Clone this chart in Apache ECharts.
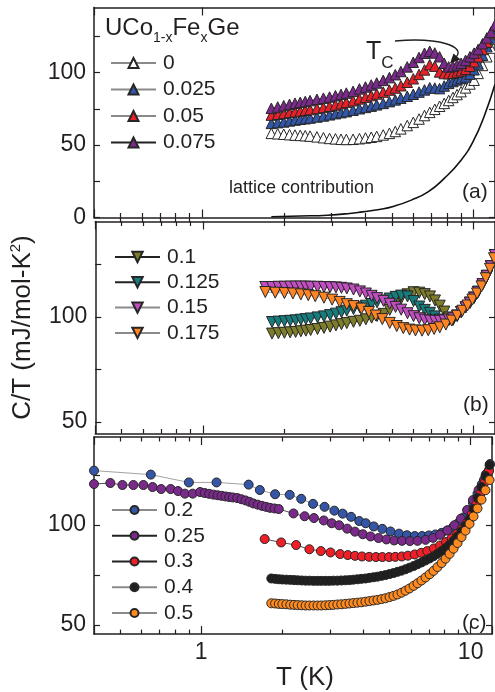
<!DOCTYPE html>
<html>
<head>
<meta charset="utf-8">
<script src="https://cdn.jsdelivr.net/npm/echarts@6.0.0/dist/echarts.min.js"></script>
<style>
  html, body { margin: 0; padding: 0; background: #fff; }
  #chart { width: 495px; height: 692px; }
</style>
</head>
<body>
<div id="chart"></div>
<script>
// ---- panel (a) : x = 0 ... 0.075 (up triangles) ----
const tA = [1.8, 1.9, 2.0, 2.1, 2.2, 2.3, 2.4, 2.5, 2.65, 2.8, 2.95, 3.1, 3.25, 3.4, 3.6, 3.8, 4.0, 4.2, 4.4, 4.65,
  4.9, 5.15, 5.4, 5.7, 6.0, 6.3, 6.6, 6.9, 7.2, 7.5, 7.8, 8.1, 8.4, 8.7, 9.0, 9.35, 9.7, 10.05, 10.4, 10.8, 11.2, 11.6, 12.0];
const a000 = [58.1, 57.8, 57.5, 57.2, 56.9, 56.7, 56.5, 56.2, 55.7, 55.1, 54.6, 54.3, 54.0, 53.9, 54.0, 54.4, 54.9, 55.4, 56.0, 57.0,
  58.1, 59.4, 61.2, 63.5, 65.7, 68.0, 70.4, 72.6, 74.7, 76.8, 78.8, 80.8, 82.9, 84.9, 86.9, 89.5, 92.2, 94.8, 99.5, 105, 111, 117, 123];
const a025 = [65.0, 65.5, 66.0, 66.7, 67.3, 67.8, 68.2, 68.7, 69.4, 70.1, 70.9, 71.7, 72.4, 73.1, 74.1, 75.1, 76.0, 76.9, 77.8, 78.8,
  80.0, 81.2, 82.4, 83.7, 85.1, 86.6, 88.1, 89.6, 89.4, 89.0, 90.8, 92.6, 93.9, 95.0, 96.0, 97.0, 99.0, 102.0, 106, 112, 118, 124, 130];
const a050 = [70.7, 71.3, 71.9, 72.5, 73.0, 73.5, 74.0, 74.5, 75.3, 76.0, 76.8, 77.7, 78.6, 79.5, 80.6, 81.9, 83.1, 84.2, 85.3, 86.6,
  88.0, 89.4, 91.0, 93.4, 95.8, 98.8, 101.9, 105.5, 104.5, 100.5, 99.4, 99.3, 99.6, 100.4, 101.3, 102.4, 104.5, 107.5, 111, 116, 121, 127, 132];
const a075 = [75.4, 76.3, 77.2, 78.1, 78.9, 79.5, 80.1, 80.7, 81.6, 82.4, 83.2, 84.1, 85.0, 85.9, 87.1, 88.8, 90.1, 91.5, 92.9, 94.7,
  96.6, 98.6, 100.8, 104.0, 107.2, 110.5, 113.4, 114.8, 113.6, 111.0, 106.5, 104.0, 104.3, 105.3, 106.5, 108.5, 111.0, 113.5, 116.0, 120, 124, 128, 133];
const tLat = [1.8, 2.3, 2.9, 3.5, 3.9, 4.5, 5.1, 5.9, 6.8, 7.8, 9.0, 10.0, 11.0, 12.0];
const lat = [0.5, 1.0, 1.6, 2.8, 3.9, 5.5, 7.8, 12, 17.7, 27, 39.6, 53, 71, 92];

// ---- panel (b) : x = 0.1 ... 0.175 (down triangles) ----
const tB = [1.7, 1.8, 1.9, 2.0, 2.1, 2.2, 2.3, 2.4, 2.5, 2.65, 2.8, 2.95, 3.1, 3.25, 3.4, 3.6, 3.8, 4.0, 4.2, 4.4, 4.65,
  4.9, 5.15, 5.4, 5.7, 6.0, 6.3, 6.6, 6.9, 7.2, 7.5, 7.8, 8.1, 8.4, 8.7, 9.0, 9.35, 9.7, 10.05, 10.4, 10.8, 11.2, 11.6, 12.0];
const b100 = [null, 92.1, 92.3, 92.5, 92.7, 92.9, 93.2, 93.5, 93.8, 94.3, 94.8, 95.4, 96.0, 96.6, 97.1, 97.7, 98.2, 98.9, 99.7, 100.5, 101.5,
  103.4, 106.3, 108.8, 110.8, 111.8, 111.6, 110.9, 109.8, 107.9, 105.4, 102.6, 99.8, 98.6, 100.6, 102.4, 104.6, 106.8, 109.2, 112.0, 115.6, 119.6, 124.2, 129.5];
const b125 = [null, 97.6, 97.8, 98.0, 98.2, 98.4, 98.7, 99.0, 99.3, 99.8, 100.3, 100.9, 101.6, 102.3, 103.0, 103.8, 104.6, 105.4, 106.2, 107.0, 107.9,
  108.8, 109.6, 110.2, 109.8, 107.6, 105.0, 103.4, 102.0, 100.3, 98.8, 98.3, 98.5, 99.2, 100.6, 102.4, 104.6, 106.8, 109.2, 112.0, 115.6, 119.6, 124.2, 129.5];
const b150 = [114.3, 114.3, 114.4, 114.4, 114.5, 114.5, 114.5, 114.5, 114.4, 114.4, 114.3, 114.2, 114.1, 113.9, 113.6, 113.1, 112.2, 111.2, 110.1, 109.0, 107.7,
  106.3, 104.8, 103.5, 101.8, 100.4, 99.4, 98.7, 98.3, 98.2, 98.2, 98.4, 98.8, 99.4, 100.6, 102.4, 104.6, 106.8, 109.2, 112.0, 115.6, 119.6, 124.2, 129.5];
const tB175 = [1.7, 1.85, 2.0, 2.15, 2.3, 2.45, 2.6, 2.8, 3.0, 3.2, 3.4, 3.6, 3.85, 4.1, 4.35, 4.6, 4.9, 5.2, 5.5, 5.8,
  6.1, 6.45, 6.8, 7.15, 7.5, 7.9, 8.3, 8.7, 9.1, 9.5, 9.9, 10.3, 10.7, 11.1, 11.5, 11.9];
const b175 = [111.9, 111.6, 111.4, 111.2, 110.8, 110.4, 109.9, 109.2, 108.3, 107.2, 106.1, 105.2, 104.0, 102.4, 100.7, 99.0, 97.2, 95.7, 94.7, 94.0,
  93.6, 93.5, 93.7, 94.3, 95.1, 96.4, 98.3, 100.6, 103.0, 105.5, 108.3, 111.2, 114.6, 118.5, 123.0, 128.0];

// ---- panel (c) : x = 0.2 ... 0.5 (circles) ----
const tC200 = [0.4, 0.65, 0.9, 1.14, 1.5, 1.65, 1.88, 2.13, 2.35, 2.6, 2.87, 3.12, 3.35, 3.6, 3.86, 4.08, 4.37, 4.7, 5.04, 5.42,
  5.8, 6.2, 6.6, 7.0, 7.4, 7.8, 8.2, 8.6, 9.0, 9.4, 9.8, 10.2, 10.6, 11.0, 11.4, 11.8];
const c200 = [127.2, 125.2, 121.3, 121.3, 120.2, 117.5, 115.4, 115.1, 113.1, 110.6, 109.1, 107.2, 105.7, 104.1, 102.0, 100.9, 99.3, 98.1, 96.8, 95.7,
  94.9, 94.5, 94.5, 94.8, 95.3, 96.1, 97.3, 98.9, 101.0, 103.8, 107.2, 111.2, 115.6, 120.4, 125.4, 130.5];
const tC250 = [0.4, 0.46, 0.51, 0.56, 0.61, 0.66, 0.71, 0.77, 0.82, 0.87, 0.93, 0.99, 1.03, 1.07, 1.11, 1.15, 1.19, 1.23, 1.27, 1.31,
  1.36, 1.41, 1.46, 1.51, 1.56, 1.62, 1.68, 1.74, 1.8, 1.87, 1.94, 2.2, 2.42, 2.62, 2.85, 3.05, 3.25, 3.48, 3.72, 3.98,
  4.25, 4.55, 4.87, 5.2, 5.56, 5.95, 6.35, 6.8, 7.25, 7.7, 8.2, 8.7, 9.2, 9.7, 10.2, 10.7, 11.2, 11.7];
const c250 = [120.5, 121, 120, 120, 120, 119, 118, 118, 117, 115.7, 115.7, 116.5, 116, 115.6, 115.2, 114.9, 114.6, 114.3, 114.0, 113.8,
  113.5, 112.9, 112.3, 111.6, 110.8, 110.2, 109.6, 109.1, 108.6, 108.3, 108.0, 105.8, 104.4, 103.5, 102.3, 100.9, 99.9, 98.2, 96.7, 95.4,
  94.3, 93.5, 92.8, 92.3, 92.1, 92.0, 92.1, 92.6, 93.6, 95.1, 97.3, 99.9, 103.2, 107.5, 112.5, 117.5, 122.5, 127.5];
const tC300 = [1.72, 1.98, 2.25, 2.52, 2.78, 3.02, 3.28, 3.5, 3.72, 3.95, 4.2, 4.45, 4.7, 4.98, 5.25, 5.55, 5.85, 6.2, 6.55, 6.9,
  7.3, 7.7, 8.1, 8.5, 8.9, 9.3, 9.7, 10.1, 10.5, 10.9, 11.3, 11.7];
const c300 = [93.0, 91.3, 90.0, 87.9, 87.0, 86.3, 85.5, 85.0, 84.6, 84.3, 84.1, 84.0, 84.0, 84.0, 84.1, 84.3, 84.7, 85.3, 86.1, 87.0,
  88.3, 89.8, 91.5, 93.4, 95.6, 98.2, 101.3, 105.5, 110.5, 116, 121.5, 127];
const tC = [1.82, 1.88, 1.94, 2.0, 2.07, 2.14, 2.21, 2.28, 2.36, 2.44, 2.52, 2.61, 2.7, 2.79, 2.89, 2.99, 3.09, 3.2, 3.31, 3.43,
  3.55, 3.67, 3.8, 3.93, 4.07, 4.21, 4.36, 4.51, 4.67, 4.83, 5.0, 5.17, 5.35, 5.54, 5.73, 5.93, 6.14, 6.35, 6.57, 6.8,
  7.04, 7.28, 7.53, 7.8, 8.07, 8.35, 8.64, 8.94, 9.25, 9.57, 9.9, 10.25, 10.6, 10.97, 11.35, 11.75];
const c400 = [73.3, 73.1, 72.9, 72.8, 72.7, 72.6, 72.5, 72.4, 72.3, 72.2, 72.2, 72.1, 72.1, 72.1, 72.1, 72.1, 72.2, 72.2, 72.3, 72.4,
  72.5, 72.7, 72.9, 73.1, 73.3, 73.6, 73.9, 74.2, 74.6, 75.0, 75.5, 76.0, 76.6, 77.2, 77.9, 78.7, 79.5, 80.4, 81.3, 82.3,
  83.3, 84.4, 85.6, 87.0, 88.5, 90.2, 92.1, 94.3, 96.8, 99.6, 102.8, 108, 113.5, 119, 124.5, 130];
const c500 = [60.9, 60.8, 60.6, 60.5, 60.4, 60.2, 60.1, 60.0, 59.9, 59.8, 59.8, 59.8, 59.8, 59.8, 59.9, 60.0, 60.1, 60.3, 60.4, 60.6,
  60.8, 61.0, 61.2, 61.4, 61.7, 62.0, 62.3, 62.6, 63.0, 63.4, 64.0, 64.6, 65.3, 66.2, 67.2, 68.3, 69.6, 70.9, 72.3, 73.8,
  75.4, 77.1, 79.0, 81.0, 83.2, 85.6, 88.2, 91.0, 94.0, 97.2, 100.6, 104.3, 108.3, 112.7, 117.4, 122.5];

// ticks
const xMinorTicks = [0.5, 0.6, 0.7, 0.8, 0.9, 2, 3, 4, 5, 6, 7, 8, 9];
const yTicksA = [0, 25, 50, 75, 100, 125];
const yLabelsA = [0, 50, 100];
const yTicksBC = [50, 75, 100, 125];
const yLabelsBC = [50, 100];

const INK = '#231f20';
const FONT = '"Liberation Sans", Arial, Helvetica, sans-serif';

function pairs(t, v) {
  return t.map((x, i) => [x, v[i]]).filter(p => p[1] != null);
}

// right frame sits just past the window edge, as in the cropped original
const grids = [
  { left: 94, top: 7.5, width: 403, height: 210 },
  { left: 94, top: 221.5, width: 403, height: 212 },
  { left: 94, top: 437, width: 403, height: 208 }
];

function xAxes(g) {
  const base = {
    type: 'log', gridIndex: g, min: 0.4, max: 12,
    splitLine: { show: false }
  };
  const line = { show: true, onZero: false, lineStyle: { color: INK, width: 1.5 } };
  const major = Object.assign({}, base, {
    axisLine: line,
    axisTick: { show: true, inside: true, length: 8, lineStyle: { color: INK, width: 1.2 } },
  });
  const minor = Object.assign({}, base, {
    axisLine: { show: false },
    axisTick: { show: true, inside: true, length: 4.5, customValues: xMinorTicks, lineStyle: { color: INK, width: 1.2 } },
    axisLabel: { show: false }
  });
  return [
    Object.assign({}, major, { position: 'bottom',
      axisLabel: { show: g === 2, fontSize: 23, margin: 7, color: INK, fontFamily: FONT,
        formatter: v => (v === 1 || v === 10) ? String(v) : '' },
      name: g === 2 ? 'T (K)' : '', nameLocation: 'middle', nameGap: 20,
      nameTextStyle: { fontSize: 26, color: INK, fontFamily: FONT, padding: [0, 0, 0, 24] } }),
    Object.assign({}, minor, { position: 'bottom' }),
    Object.assign({}, major, { position: 'top', axisLabel: { show: false } }),
    Object.assign({}, minor, { position: 'top' })
  ];
}

function yAxes(g, min, max, ticks, labels) {
  const line = { show: true, onZero: false, lineStyle: { color: INK, width: 1.5 } };
  const tick = { show: true, inside: true, length: 6, customValues: ticks, lineStyle: { color: INK, width: 1.2 } };
  const left = {
    type: 'value', gridIndex: g, position: 'left', min: min, max: max,
    axisLine: line, axisTick: tick, splitLine: { show: false },
    axisLabel: { show: true, customValues: labels, fontSize: 23, margin: 8, color: INK, fontFamily: FONT }
  };
  if (g === 1) {
    left.name = 'C/T (mJ/mol-K{sup|2})';
    left.nameLocation = 'middle';
    left.nameRotate = 90;
    left.nameGap = 50;
    left.nameTextStyle = { fontSize: 26, lineHeight: 30, color: INK, fontFamily: FONT,
      rich: { sup: { fontSize: 15, lineHeight: 12, verticalAlign: 'top', color: INK, fontFamily: FONT } } };
  }
  const right = {
    type: 'value', gridIndex: g, position: 'right', min: min, max: max,
    axisLine: line, axisTick: tick, splitLine: { show: false }, axisLabel: { show: false }
  };
  return [left, right];
}

function marks(name, t, v, g, symbol, size, fill, lineColor, rotate) {
  return {
    name: name, type: 'line', xAxisIndex: 4 * g, yAxisIndex: 2 * g,
    data: pairs(t, v), symbol: symbol, symbolSize: size, symbolRotate: rotate || 0,
    showSymbol: true, showAllSymbol: true, silent: true,
    lineStyle: { color: lineColor, width: 0.8 },
    itemStyle: { color: fill, borderColor: '#262626', borderWidth: 1 },
    emphasis: { disabled: true }
  };
}

const GRAY = '#8a8a8a', DARK = '#222';

const series = [
  {
    name: 'lattice', type: 'line', xAxisIndex: 0, yAxisIndex: 0, data: pairs(tLat, lat),
    symbol: 'none', smooth: true, silent: true, lineStyle: { color: '#111', width: 1.6 }
  },
  marks('0', tA, a000, 0, 'triangle', 10.5, '#ffffff', GRAY),
  marks('0.025', tA, a025, 0, 'triangle', 10.5, '#3256a8', GRAY),
  marks('0.05', tA, a050, 0, 'triangle', 10.5, '#e8202a', GRAY),
  marks('0.075', tA, a075, 0, 'triangle', 10.5, '#7b2a8c', DARK),

  marks('0.1', tB, b100, 1, 'triangle', 11, '#7d7d2c', DARK, 180),
  marks('0.125', tB, b125, 1, 'triangle', 11, '#167c7c', DARK, 180),
  marks('0.15', tB, b150, 1, 'triangle', 11, '#c24fc2', GRAY, 180),
  marks('0.175', tB175, b175, 1, 'triangle', 11, '#ff8424', GRAY, 180),

  marks('0.2', tC200, c200, 2, 'circle', 9, '#3556a6', GRAY),
  marks('0.25', tC250, c250, 2, 'circle', 9, '#7a2a8a', DARK),
  marks('0.3', tC300, c300, 2, 'circle', 9, '#ee1f26', DARK),
  marks('0.4', tC, c400, 2, 'circle', 9, '#1e1e1e', GRAY),
  marks('0.5', tC, c500, 2, 'circle', 9, '#ff8a1e', GRAY)
];

function legendFor(left, top, gap, h, names) {
  return {
    orient: 'vertical', left: left, top: top, padding: 0, itemGap: gap,
    itemWidth: 45, itemHeight: h, selectedMode: false, data: names,
    textStyle: { fontSize: 21, lineHeight: 21, color: INK, fontFamily: FONT, padding: [0, 0, 0, 2] }
  };
}

const option = {
  animation: false,
  backgroundColor: '#fff',
  grid: grids,
  xAxis: [].concat(xAxes(0), xAxes(1), xAxes(2)),
  yAxis: [].concat(
    yAxes(0, 0, 145, yTicksA, yLabelsA),
    yAxes(1, 44.5, 145.5, yTicksBC, yLabelsBC),
    yAxes(2, 45.5, 144, yTicksBC, yLabelsBC)
  ),
  legend: [
    legendFor(110, 52.5, 5.5, 12.5, ['0', '0.025', '0.05', '0.075']),
    legendFor(114, 246.5, 4.3, 13, ['0.1', '0.125', '0.15', '0.175']),
    legendFor(111, 499.5, 4.75, 10, ['0.2', '0.25', '0.3', '0.4', '0.5'])
  ],
  graphic: [
    { type: 'text', left: 105, top: 11.5, silent: true,
      style: { text: 'UCo{s|1-x}Fe{s|x}Ge', fontSize: 24, lineHeight: 34, fill: INK, fontFamily: FONT,
        rich: { s: { fontSize: 14, lineHeight: 14, verticalAlign: 'bottom', fill: INK, fontFamily: FONT } } } },
    { type: 'text', left: 366, top: 31.7, silent: true,
      style: { text: 'T{s|C}', fontSize: 25, lineHeight: 40, fill: INK, fontFamily: FONT,
        rich: { s: { fontSize: 17, lineHeight: 10, verticalAlign: 'bottom', fill: INK, fontFamily: FONT } } } },
    { type: 'bezierCurve', silent: true,
      shape: { x1: 395, y1: 41, cpx1: 440, cpy1: 37, cpx2: 466, cpy2: 47, x2: 456, y2: 57 },
      style: { stroke: INK, lineWidth: 1.4, fill: null } },
    { type: 'polygon', silent: true,
      shape: { points: [[450, 63.5], [453.5, 53.5], [460.5, 59.5]] },
      style: { fill: INK } },
    { type: 'text', x: 229, y: 188, silent: true,
      style: { text: 'lattice contribution', fontSize: 18, fill: INK, fontFamily: FONT, verticalAlign: 'middle', textVerticalAlign: 'middle' } },
    { type: 'text', x: 462, y: 192, silent: true,
      style: { text: '(a)', fontSize: 21, fill: INK, fontFamily: FONT, verticalAlign: 'middle', textVerticalAlign: 'middle' } },
    { type: 'text', x: 463, y: 405, silent: true,
      style: { text: '(b)', fontSize: 21, fill: INK, fontFamily: FONT, verticalAlign: 'middle', textVerticalAlign: 'middle' } },
    { type: 'text', x: 462, y: 623, silent: true,
      style: { text: '(c)', fontSize: 21, fill: INK, fontFamily: FONT, verticalAlign: 'middle', textVerticalAlign: 'middle' } }
  ],
  series: series
};

const chart = echarts.init(document.getElementById('chart'), null, { renderer: 'canvas' });
chart.setOption(option);
</script>
</body>
</html>
